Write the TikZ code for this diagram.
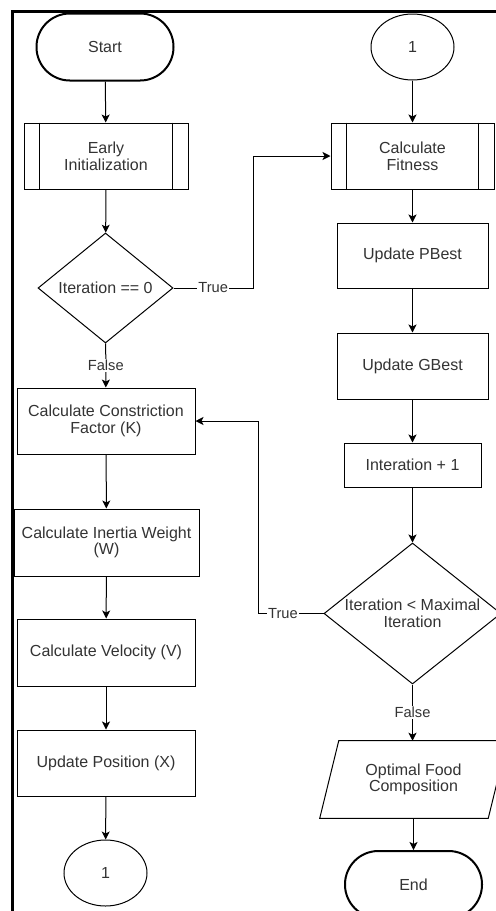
\documentclass[tikz,border=0pt]{standalone}
\usepackage{fontspec}
\setmainfont{Liberation Sans}
\usetikzlibrary{arrows.meta,shapes.geometric,calc}
\begin{document}
\begin{tikzpicture}[x=0.75pt,y=-0.75pt,
  every node/.style={font=\fontsize{12}{12.5}\selectfont, text=black!80, align=center},
  sz/.style 2 args={minimum width=#1*0.75pt, minimum height=#2*0.75pt},
  box/.style={draw=black, line width=0.75pt, rectangle, inner sep=0pt},
  term/.style={box, line width=1.5pt, rounded corners=25pt},
  conn/.style={ellipse, draw=black, line width=0.75pt, inner sep=0pt},
  decide/.style={diamond, draw=black, line width=0.75pt, inner sep=0pt},
  thin/.style={draw=black, line width=0.75pt},
  flow/.style={thin, -{Stealth[length=6pt,width=6pt,inset=1.5pt]}},
  lbl/.style={fill=white, inner sep=1pt, font=\fontsize{11}{12}\selectfont}
]
\useasboundingbox (0,0) rectangle (496,911);
\clip (0,0) rectangle (496,911);
\fill[white] (0,0) rectangle (496,911);

% frame
\draw[line width=2.25pt] (12.5,911) -- (12.5,11) -- (496,11);

% left column
\node[term, sz={137}{67}] (start) at (105,47) {Start};
\node[box, sz={164}{66}] (init) at (106,156) {Early\\Initialization};
\draw[thin] ($(init.north west)+(16,0)$) -- ($(init.south west)+(16,0)$);
\draw[thin] ($(init.north east)+(-16,0)$) -- ($(init.south east)+(-16,0)$);
\node[decide, sz={135}{110}, aspect=1.3] (d1) at (105.5,288) {Iteration == 0};
\node[box, sz={178}{66}] (ck) at (106,421) {Calculate Constriction\\Factor (K)};
\node[box, sz={185}{67}] (cw) at (106.5,542.5) {Calculate Inertia Weight\\(W)};
\node[box, sz={178}{67}] (cv) at (106,652.5) {Calculate Velocity (V)};
\node[box, sz={178}{66}] (up) at (106,763) {Update Position (X)};
\node[conn, sz={83}{66}] (c1) at (105.5,873) {1};

% right column
\node[conn, sz={83}{66}] (c2) at (412.5,47) {1};
\node[box, sz={163}{66}] (fit) at (412.5,156) {Calculate\\Fitness};
\draw[thin] ($(fit.north west)+(16,0)$) -- ($(fit.south west)+(16,0)$);
\draw[thin] ($(fit.north east)+(-16,0)$) -- ($(fit.south east)+(-16,0)$);
\node[box, sz={151}{65}] (pbest) at (412.5,255.5) {Update PBest};
\node[box, sz={151}{66}] (gbest) at (412.5,366) {Update GBest};
\node[box, sz={137}{44}] (inc) at (412.5,465) {Interation + 1};
\node[decide, sz={177}{141}, aspect=1.255] (d2) at (412.5,613.5) {Iteration < Maximal\\Iteration};
\node[inner sep=0pt, sz={187}{77}] (out) at (413.5,779.5) {Optimal Food\\Composition};
\draw[thin] ($(out.north west)+(19,0)$) -- (out.north east) -- ($(out.south east)+(-19,0)$) -- (out.south west) -- cycle;
\node[term, sz={137}{67}] (stop) at (413.5,884.5) {End};

% bends of the loop-back connectors
\coordinate (j1) at (253,0);
\coordinate (j2) at (258,0);

% connectors
\draw[flow] (start) -- (init);
\draw[flow] (init) -- (d1);
\draw[flow] (d1) -- node[lbl]{False} (ck);
\draw[flow] (ck) -- (cw);
\draw[flow] (cw) -- (cv);
\draw[flow] (cv) -- (up);
\draw[flow] (up) -- (c1);
\draw[flow] (d1.east) -- node[lbl]{True} (d1.east -| j1) |- (fit.west);

\draw[flow] (c2) -- (fit);
\draw[flow] (fit) -- (pbest);
\draw[flow] (pbest) -- (gbest);
\draw[flow] (gbest) -- (inc);
\draw[flow] (inc) -- (d2);
\draw[flow] (d2.south) -- node[lbl]{False} (d2.south |- out.north);
\draw[flow] (stop.north |- out.south) -- (stop.north);
\draw[flow] (d2.west) -- node[lbl, pos=0.62]{True} (d2.west -| j2) |- (ck.east);
\end{tikzpicture}
\end{document}
